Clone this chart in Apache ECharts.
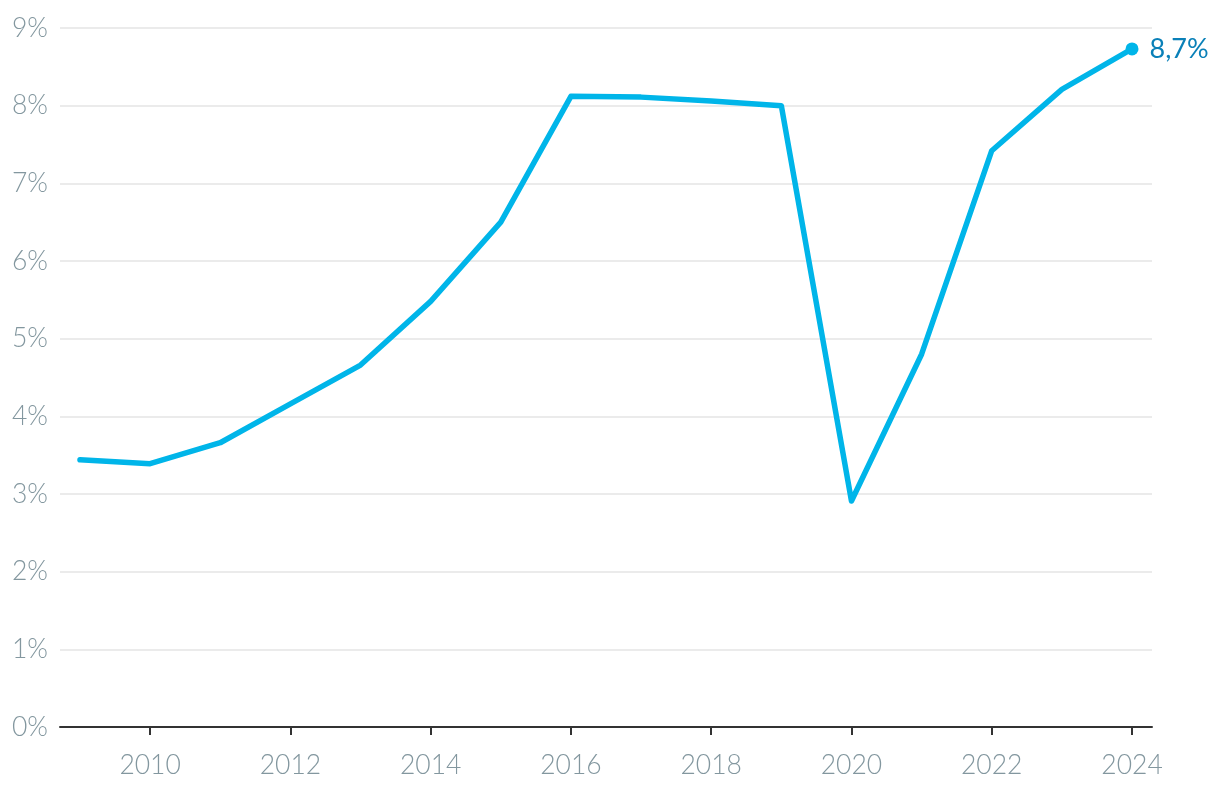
<!DOCTYPE html>
<html>
<head>
<meta charset="utf-8">
<script src="https://cdn.jsdelivr.net/npm/echarts@6/dist/echarts.min.js"></script>
<style>
html,body{margin:0;padding:0;background:#fff;}
#c{width:1220px;height:794px;}
</style>
</head>
<body>
<div id="c"></div>
<script>
const years = [2009,2010,2011,2012,2013,2014,2015,2016,2017,2018,2019,2020,2021,2022,2023,2024];
const values = [3.44,3.39,3.66,4.16,4.66,5.48,6.50,8.12,8.11,8.06,8.00,2.91,4.80,7.42,8.21,8.73];
const xTicks = [2010,2012,2014,2016,2018,2020,2022,2024];
const endLabel = '8,7%';

const labelColor = '#83979f';
const font = 'Lato';
const data = years.map((y,i)=>[y, values[i]]);
const last = data.length - 1;

const chart = echarts.init(document.getElementById('c'), null, {renderer:'canvas'});
chart.setOption({
  animation:false,
  backgroundColor:'#fff',
  grid:{left:60,right:68,top:28,bottom:67,containLabel:false},
  xAxis:{
    type:'value', min:2008.715, max:2024.285,
    splitLine:{show:false},
    axisLine:{show:true,lineStyle:{color:'#333',width:2}},
    axisTick:{show:true,customValues:xTicks,length:8,inside:false,lineStyle:{color:'#333',width:2}},
    axisLabel:{customValues:xTicks,color:labelColor,fontFamily:font,fontWeight:300,fontSize:26.5,margin:25,formatter:v=>String(v)}
  },
  yAxis:{
    type:'value', min:0, max:9, interval:1,
    axisLine:{show:false}, axisTick:{show:false},
    splitLine:{lineStyle:{color:'#e5e5e5',width:1.5}},
    axisLabel:{color:labelColor,fontFamily:font,fontWeight:300,fontSize:26.5,margin:12,formatter:'{value}%'}
  },
  series:[{
    type:'line',
    data:data.map((d,i)=>i===last?{value:d,symbol:'circle',symbolSize:13,label:{show:true,position:'right',distance:11,formatter:endLabel,color:'#0a80b8',fontFamily:font,fontWeight:400,fontSize:27}}:{value:d,symbol:'none'}),
    lineStyle:{color:'#00b5e9',width:5.5,cap:'round',join:'round'},
    itemStyle:{color:'#00b5e9'},
    showSymbol:true,
    z:5
  }]
});
</script>
</body>
</html>
